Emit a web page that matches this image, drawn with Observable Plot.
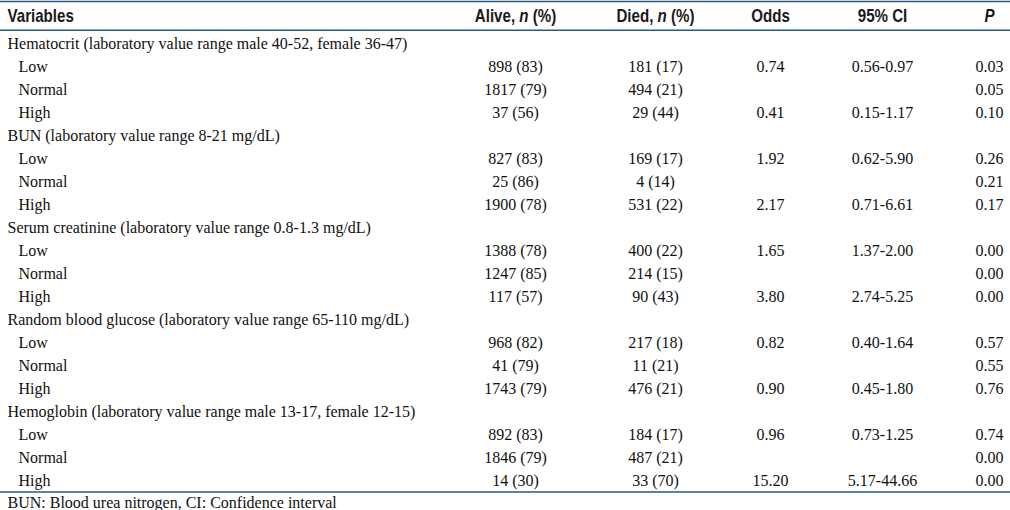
<!DOCTYPE html>
<html>
<head>
<meta charset="utf-8">
<script src="https://cdn.jsdelivr.net/npm/d3@7"></script>
<script src="https://cdn.jsdelivr.net/npm/@observablehq/plot@0.6"></script>
<style>
  html, body { margin: 0; padding: 0; background: #fff; }
  #chart svg { display: block; }
</style>
</head>
<body>
<div id="chart"></div>
<script>
// ---- data ----
const headers = ["Variables", "Alive, n (%)", "Died, n (%)", "Odds", "95% CI", "P"];
const groups = [
  "Hematocrit (laboratory value range male 40-52, female 36-47)",
  "BUN (laboratory value range 8-21 mg/dL)",
  "Serum creatinine (laboratory value range 0.8-1.3 mg/dL)",
  "Random blood glucose (laboratory value range 65-110 mg/dL)",
  "Hemoglobin (laboratory value range male 13-17, female 12-15)"
];
const levels = ["Low", "Normal", "High"];
const aliveN   = [898, 1817, 37,   827, 25, 1900,  1388, 1247, 117,  968, 41, 1743,  892, 1846, 14];
const alivePct = [83, 79, 56,      83, 86, 78,     78, 85, 57,       82, 79, 79,     83, 79, 30];
const diedN    = [181, 494, 29,    169, 4, 531,    400, 214, 90,     217, 11, 476,   184, 487, 33];
const diedPct  = [17, 21, 44,      17, 14, 22,     22, 15, 43,       18, 21, 21,     17, 21, 70];
const odds     = [0.74, null, 0.41, 1.92, null, 2.17, 1.65, null, 3.80, 0.82, null, 0.90, 0.96, null, 15.20];
const ciLow    = [0.56, null, 0.15, 0.62, null, 0.71, 1.37, null, 2.74, 0.40, null, 0.45, 0.73, null, 5.17];
const ciHigh   = [0.97, null, 1.17, 5.90, null, 6.61, 2.00, null, 5.25, 1.64, null, 1.80, 1.25, null, 44.66];
const pValues  = [0.03, 0.05, 0.10, 0.26, 0.21, 0.17, 0.00, 0.00, 0.00, 0.57, 0.55, 0.76, 0.74, 0.00, 0.00];
const footnote = "BUN: Blood urea nitrogen, CI: Confidence interval";

// ---- build table cells (row index, column index, text) ----
const groupCells = [], levelCells = [], valueCells = [];
groups.forEach((g, gi) => {
  const r = gi * 4;
  groupCells.push({row: r, col: 0, label: g});
  levels.forEach((lv, li) => {
    const i = gi * 3 + li, rr = r + 1 + li;
    levelCells.push({row: rr, col: 0, label: lv});
    valueCells.push({row: rr, col: 1, label: `${aliveN[i]} (${alivePct[i]})`});
    valueCells.push({row: rr, col: 2, label: `${diedN[i]} (${diedPct[i]})`});
    if (odds[i] != null) valueCells.push({row: rr, col: 3, label: odds[i].toFixed(2)});
    if (ciLow[i] != null) valueCells.push({row: rr, col: 4, label: `${ciLow[i].toFixed(2)}-${ciHigh[i].toFixed(2)}`});
    valueCells.push({row: rr, col: 5, label: pValues[i].toFixed(2)});
  });
});
const nRows = groups.length * 4;
const headerCells = headers.map((h, i) => ({row: -1, col: i, label: h}));
const footCells = [{row: nRows, col: 0, label: footnote}];

const lineColor = "#265a82";
const serif = "'Liberation Serif', 'Times New Roman', serif";
const sansBold = "'Liberation Sans', Arial, sans-serif";

const chart = Plot.plot({
  width: 1010,
  height: 510,
  margin: 0,
  style: {background: "#fff", fontFamily: serif, fontSize: "16px", color: "#111"},
  x: {type: "linear", domain: [0, 1, 2, 3, 4, 5], range: [7, 515, 655, 770, 882, 989], axis: null},
  y: {type: "linear", domain: [-1, 0, nRows - 1, nRows], range: [16, 43.5, 480.5, 502.5], axis: null},
  marks: [
    Plot.ruleY([-1.55, -0.5, nRows - 0.5], {stroke: lineColor, strokeWidth: 1.5}),
    Plot.text(headerCells.filter(d => d.col === 0), {x: "col", y: "row", text: "label", textAnchor: "start",
      fontFamily: sansBold, fontWeight: "bold", fontSize: 18, fill: "#1a1a1a"}),
    Plot.text(headerCells.filter(d => d.col > 0), {x: "col", y: "row", text: "label", textAnchor: "middle",
      fontFamily: sansBold, fontWeight: "bold", fontSize: 18, fill: "#1a1a1a"}),
    Plot.text(groupCells, {x: "col", y: "row", text: "label", textAnchor: "start", fontFamily: serif, fontSize: 16, fill: "#111"}),
    Plot.text(levelCells, {x: "col", y: "row", text: "label", textAnchor: "start", dx: 11, fontFamily: serif, fontSize: 16, fill: "#111"}),
    Plot.text(valueCells, {x: "col", y: "row", text: "label", textAnchor: "middle", fontFamily: serif, fontSize: 16, fill: "#111"}),
    Plot.text(footCells, {x: "col", y: "row", text: "label", textAnchor: "start", fontFamily: serif, fontSize: 16, fill: "#111"})
  ]
});

// header: condensed look (horizontal squeeze) and italic "n" / "P"
d3.select(chart).selectAll("text").each(function () {
  const t = this.textContent;
  if (!headers.includes(t)) return;
  const sel = d3.select(this);
  const tr = this.getAttribute("transform");
  if (tr) {
    sel.attr("transform", tr + " scale(0.84,1)");
  } else {
    const x = +this.getAttribute("x") || 0, y = +this.getAttribute("y") || 0;
    sel.attr("x", null).attr("y", null).attr("transform", `translate(${x},${y}) scale(0.84,1)`);
  }
  if (t.includes(", n ")) {
    const [a, b] = t.split(", n ");
    sel.text(null);
    sel.append("tspan").text(a + ", ");
    sel.append("tspan").attr("font-style", "italic").text("n");
    sel.append("tspan").text(" " + b);
  } else if (t === "P") {
    sel.attr("font-style", "italic");
  }
});

document.getElementById("chart").appendChild(chart);
</script>
</body>
</html>
